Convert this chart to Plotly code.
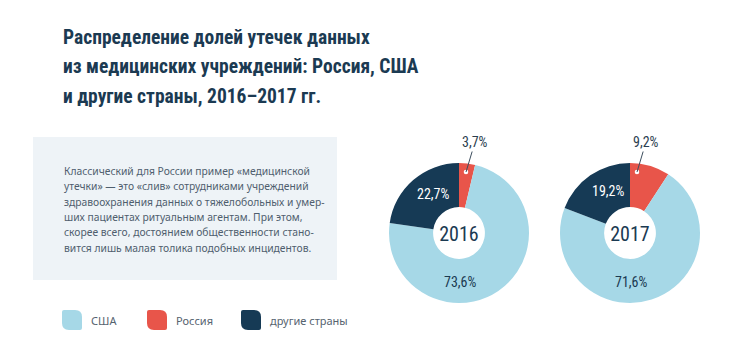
import math
import plotly.graph_objects as go

W, H = 732, 361

categories = ["Россия", "США", "другие страны"]
years = ["2016", "2017"]
values_2016 = [3.7, 73.6, 22.7]
values_2017 = [9.2, 71.6, 19.2]
colors = ["#e8554a", "#a6d8e7", "#163a55"]

title_lines = [
    "Распределение долей утечек данных",
    "из медицинских учреждений: Россия, США",
    "и другие страны, 2016–2017 гг.",
]
body_lines = [
    "Классический для России пример «медицинской",
    "утечки» — это «слив» сотрудниками учреждений",
    "здравоохранения данных о тяжелобольных и умер-",
    "ших пациентах ритуальным агентам. При этом,",
    "скорее всего, достоянием общественности стано-",
    "вится лишь малая толика подобных инцидентов.",
]


def px(x):
    return x / W


def py(y):
    return 1 - y / H


TITLE_FONT = "Roboto Condensed, Roboto, sans-serif"
NUM_FONT = "Roboto Condensed, Roboto, sans-serif"
BODY_FONT = "Noto Sans, Roboto, sans-serif"
DARK = "#1b3a52"

fig = go.Figure()

centers = [(459, 233), (630, 233)]
R = 70
for year, vals, (cx, cy) in zip(years, [values_2016, values_2017], centers):
    fig.add_trace(go.Pie(
        labels=categories,
        values=vals,
        marker=dict(colors=colors, line=dict(width=0)),
        hole=0.37,
        sort=False,
        direction="clockwise",
        rotation=0,
        textinfo="none",
        hoverinfo="label+value",
        showlegend=False,
        domain=dict(x=[px(cx - R), px(cx + R)], y=[py(cy + R), py(cy - R)]),
        title=dict(text=year, position="middle center",
                   font=dict(family=NUM_FONT, size=20, color=DARK)),
    ))

annotations = []
shapes = []

# title lines
for i, line in enumerate(title_lines):
    annotations.append(dict(
        text=f"<b>{line}</b>", x=px(61), y=py(37 + i * 29.5), xref="paper", yref="paper",
        xanchor="left", yanchor="middle", showarrow=False,
        font=dict(family=TITLE_FONT, size=19.5, color=DARK)))

# body box
shapes.append(dict(type="rect", xref="paper", yref="paper",
                   x0=px(33), x1=px(337), y0=py(280), y1=py(137),
                   fillcolor="#eef3f7", line=dict(width=0), layer="below"))
for i, line in enumerate(body_lines):
    annotations.append(dict(
        text=line, x=px(62), y=py(171 + i * 15.3), xref="paper", yref="paper",
        xanchor="left", yanchor="middle", showarrow=False,
        font=dict(family=BODY_FONT, size=10.3, color="#4f5e6e")))

# slice labels
fmt = lambda v: f"{v:.1f}%".replace(".", ",")
for vals, (cx, cy) in zip([values_2016, values_2017], centers):
    total = sum(vals)
    # others (dark) - near the middle of its slice
    start = (vals[0] + vals[1]) / total * 360
    mid = math.radians((start + 360) / 2 + 7)
    r = 47
    annotations.append(dict(
        text=fmt(vals[2]), x=px(cx + r * math.sin(mid)), y=py(cy - r * math.cos(mid)),
        xref="paper", yref="paper", showarrow=False,
        xanchor="center", yanchor="middle",
        font=dict(family=NUM_FONT, size=14, color="white")))
    # USA (light) - at bottom
    annotations.append(dict(
        text=fmt(vals[1]), x=px(cx + 1), y=py(cy + 49),
        xref="paper", yref="paper", showarrow=False,
        xanchor="center", yanchor="middle",
        font=dict(family=NUM_FONT, size=14, color=DARK)))
    # Russia - outside with leader
    dx, dy = cx + 7, cy - 61
    annotations.append(dict(
        text=fmt(vals[0]), x=px(dx), y=py(dy), xref="paper", yref="paper",
        showarrow=True, ax=9, ay=-30, arrowhead=0, arrowwidth=1,
        xanchor="center", yanchor="middle",
        arrowcolor="#3d4e5e", standoff=0,
        font=dict(family=NUM_FONT, size=14, color="#2b3e50")))
    shapes.append(dict(type="circle", xref="paper", yref="paper",
                       x0=px(dx - 2.3), x1=px(dx + 2.3), y0=py(dy + 2.3), y1=py(dy - 2.3),
                       fillcolor="white", line=dict(width=0)))

# legend
leg_x = [62, 147, 241]
legend_order = [1, 0, 2]
for lx, idx in zip(leg_x, legend_order):
    cat, col = categories[idx], colors[idx]
    x0, x1, y0, y1 = lx, lx + 20, 310, 330
    r1, r2 = 7, 2
    path = (f"M {px(x0 + r2)},{py(y0)} L {px(x1 - r1)},{py(y0)} "
            f"Q {px(x1)},{py(y0)} {px(x1)},{py(y0 + r1)} "
            f"L {px(x1)},{py(y1 - r2)} Q {px(x1)},{py(y1)} {px(x1 - r2)},{py(y1)} "
            f"L {px(x0 + r1)},{py(y1)} Q {px(x0)},{py(y1)} {px(x0)},{py(y1 - r1)} "
            f"L {px(x0)},{py(y0 + r2)} Q {px(x0)},{py(y0)} {px(x0 + r2)},{py(y0)} Z")
    shapes.append(dict(type="path", xref="paper", yref="paper", path=path,
                       fillcolor=col, line=dict(width=0)))
    annotations.append(dict(
        text=cat, x=px(lx + 27), y=py(320), xref="paper", yref="paper",
        xanchor="left", yanchor="middle", showarrow=False,
        font=dict(family=BODY_FONT, size=11, color="#56636f")))

fig.update_layout(
    width=W, height=H,
    margin=dict(l=0, r=0, t=0, b=0),
    paper_bgcolor="white",
    plot_bgcolor="white",
    annotations=annotations,
    shapes=shapes,
    separators=",.",
)

fig.write_html("out.html", config={"displayModeBar": False},
               post_script="document.body.style.margin='0';")
